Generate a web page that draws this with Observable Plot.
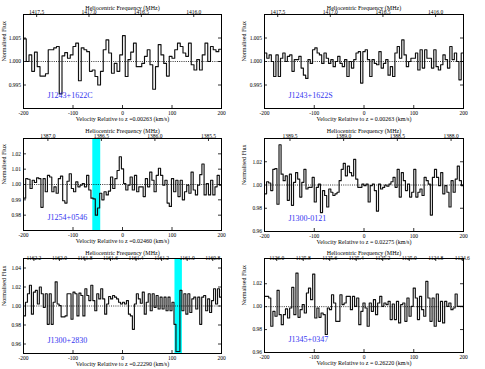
<!DOCTYPE html>
<html><head><meta charset="utf-8">
<script src="https://cdn.jsdelivr.net/npm/d3@7"></script>
<script src="https://cdn.jsdelivr.net/npm/@observablehq/plot@0.6"></script>
<style>
body{margin:0;background:#fff;}
#wrap{position:relative;width:485px;height:369px;overflow:hidden;background:#fff;}
</style></head><body><div id="wrap"></div>
<script>
// ---------- data ----------
const names = ["J1243+1622C","J1243+1622S","J1254+0546","J1300-0121","J1300+2830","J1345+0347"];
const redshifts = ["0.00263","0.00263","0.02460","0.02275","0.22290","0.26220"];
const xLabels = [
  "Velocity Relative to z =0.00263 (km/s)",
  "Velocity Relative to z = 0.00263 (km/s)",
  "Velocity Relative to z =0.02460 (km/s)",
  "Velocity Relative to z = 0.02275 (km/s)",
  "Velocity Relative to z =0.22290 (km/s)",
  "Velocity Relative to z = 0.26220 (km/s)"
];
const topTitle = "Heliocentric Frequency (MHz)";
const yTitle = "Normalised Flux";
const velTicks = [-200,-100,0,100,200];

const freqTicksP1 = [1417.5,1417.0,1416.5,1416.0];
const freqTicksP2 = [1417.5,1417.0,1416.5,1416.0];
const freqTicksP3 = [1387.0,1386.5,1386.0,1385.5];
const freqTicksP4 = [1389.5,1389.0,1388.5,1388.0];
const freqTicksP5 = [1162.2,1162.0,1161.8,1161.6,1161.4,1161.2,1161.0,1160.8];
const freqTicksP6 = [1126.0,1125.8,1125.6,1125.4,1125.2,1125.0,1124.8,1124.6];

const yTicksP1 = [0.995,1.000,1.005];
const yTicksP2 = [0.995,1.000,1.005];
const yTicksP3 = [0.98,0.99,1.00,1.01,1.02];
const yTicksP4 = [0.96,0.98,1.00,1.02];
const yTicksP5 = [0.96,0.98,1.00,1.02,1.04];
const yTicksP6 = [0.96,0.98,1.00,1.02];

const yDomainP1 = [0.990,1.010];
const yDomainP2 = [0.990,1.010];
const yDomainP3 = [0.970,1.030];
const yDomainP4 = [0.960,1.040];
const yDomainP5 = [0.950,1.050];
const yDomainP6 = [0.960,1.042];

const bandP3 = [-60,-44];
const bandP5 = [106,121];

const fluxP1 = [1.0048,1.0000,1.0014,0.9979,1.0020,0.9989,0.9969,0.9969,0.9974,1.0025,
1.0025,1.0029,1.0032,0.9931,1.0012,1.0019,1.0007,1.0014,1.0032,1.0039,
0.9959,1.0029,1.0025,1.0021,0.9979,0.9982,0.9968,0.9950,0.9979,1.0025,
1.0046,1.0018,0.9975,0.9996,0.9979,1.0014,1.0055,0.9968,1.0004,1.0020,
1.0039,0.9989,0.9989,0.9996,1.0011,1.0025,0.9993,0.9941,0.9989,1.0036,
1.0014,0.9996,0.9969,1.0011,1.0007,1.0025,1.0039,1.0032,1.0018,1.0011,
1.0039,0.9993,0.9982,1.0004,0.9982,1.0014,1.0039,1.0000,1.0032,1.0025,
1.0021,1.0026];

const fluxP2 = [1.0018,1.0007,1.0014,1.0000,0.9968,1.0014,0.9968,1.0007,1.0018,1.0000,
1.0011,1.0014,0.9979,1.0004,1.0004,1.0011,0.9986,0.9971,0.9964,1.0004,
0.9996,1.0025,1.0029,1.0018,1.0014,0.9996,1.0018,1.0007,0.9996,1.0004,
0.9989,1.0000,1.0011,0.9996,0.9989,1.0004,0.9968,1.0000,0.9986,1.0004,
1.0018,1.0021,0.9954,1.0021,1.0025,1.0004,0.9968,1.0004,0.9996,0.9993,
1.0021,0.9986,0.9996,1.0004,0.9971,0.9989,0.9968,1.0018,1.0032,1.0007,
1.0046,1.0014,0.9989,1.0000,1.0007,1.0007,1.0018,0.9982,1.0025,0.9986,
1.0025,1.0007,1.0007,0.9986,1.0025,0.9989,0.9982,0.9993,1.0014,1.0004,
0.9986,1.0032,1.0004,1.0018,1.0000,0.9961,1.0018];

const fluxP3 = [0.9911,1.0038,1.0034,0.9974,1.0028,1.0013,1.0043,1.0038,0.9851,1.0038,
0.9953,1.0060,1.0049,0.9953,0.9985,0.9943,1.0038,1.0055,0.9894,0.9879,
1.0021,1.0070,0.9974,0.9953,1.0017,0.9985,0.9996,1.0006,0.9985,1.0060,
0.9964,0.9911,0.9906,0.9800,0.9847,0.9943,0.9900,0.9953,0.9932,0.9957,
1.0049,0.9974,1.0038,1.0091,1.0181,1.0102,1.0006,0.9964,0.9996,1.0049,
0.9964,1.0060,0.9953,0.9985,0.9985,0.9921,1.0038,0.9985,1.0081,1.0028,
0.9953,1.0060,1.0106,1.0060,0.9996,1.0028,0.9879,0.9857,1.0038,0.9953,
1.0028,0.9921,1.0028,0.9900,0.9953,0.9996,0.9943,1.0081,0.9964,0.9932,
0.9996,1.0064,1.0134,0.9932,1.0006,0.9932,1.0028,0.9932,0.9985,1.0060,0.9996];

const fluxP4 = [0.9924,1.0028,1.0017,0.9952,1.0135,1.0141,0.9834,1.0346,1.0093,1.0037,
1.0079,0.9868,1.0093,0.9825,1.0023,1.0107,1.0051,0.9896,1.0023,1.0135,
0.9966,0.9980,0.9980,1.0065,0.9854,0.9980,1.0008,0.9763,0.9952,0.9910,
0.9811,0.9966,0.9938,0.9910,0.9924,0.9938,1.0037,1.0135,1.0186,1.0079,
1.0163,1.0107,1.0079,1.0220,1.0051,0.9980,0.9980,1.0008,0.9994,1.0008,
0.9854,0.9994,1.0008,0.9952,0.9775,1.0008,0.9966,0.9980,1.0000,0.9989,
1.0008,1.0028,1.0065,0.9980,1.0135,0.9896,1.0107,1.0037,0.9952,1.0008,
0.9896,0.9938,1.0135,0.9896,0.9938,0.9966,0.9910,1.0065,1.0037,1.0008,
0.9741,1.0065,1.0135,1.0065,0.9994,1.0107,0.9924,0.9994,0.9938,0.9811,
1.0037,0.9938,1.0051,1.0163,1.0037,0.9994];

const fluxP5 = [0.9896,1.0039,1.0129,1.0218,0.9914,1.0146,1.0164,1.0021,1.0200,1.0129,
0.9986,1.0129,0.9807,1.0129,0.9807,1.0039,1.0254,1.0021,1.0004,0.9886,
0.9886,0.9896,1.0129,1.0129,0.9861,1.0146,1.0129,0.9896,1.0136,1.0111,
0.9896,1.0182,1.0111,1.0057,1.0218,1.0057,0.9950,1.0129,1.0075,1.0182,
1.0075,0.9914,1.0021,1.0100,1.0075,1.0111,1.0093,1.0075,1.0039,1.0021,
1.0039,1.0021,1.0057,0.9914,0.9896,0.9754,1.0021,1.0129,1.0075,1.0029,
1.0146,0.9914,1.0039,1.0129,0.9950,1.0129,0.9986,1.0111,0.9968,1.0093,
0.9968,1.0093,0.9950,1.0093,0.9950,1.0039,0.9807,0.9521,0.9521,1.0164,
0.9950,1.0129,0.9914,1.0129,0.9932,1.0075,1.0093,0.9968,1.0093,0.9807,
1.0093,1.0111,0.9950,1.0075,0.9932,1.0057,1.0182,1.0021,1.0182,1.0093];

const fluxP6 = [1.0090,1.0090,1.0075,0.9829,0.9959,0.9916,1.0142,0.9930,0.9843,0.9930,
0.9980,0.9901,0.9988,1.0168,0.9930,1.0293,0.9907,0.9974,1.0017,0.9945,
1.0119,1.0162,1.0061,1.0284,0.9901,0.9988,0.9907,0.9945,0.9930,0.9757,
0.9988,0.9974,1.0104,1.0032,0.9872,0.9872,1.0104,1.0017,1.0032,1.0090,
1.0090,0.9974,1.0090,1.0003,1.0075,0.9843,0.9959,1.0032,0.9988,0.9829,
1.0032,0.9959,1.0061,0.9930,1.0032,1.0090,1.0003,1.0032,1.0017,1.0046,
0.9887,1.0023,0.9887,1.0046,0.9858,1.0017,1.0032,0.9872,1.0075,0.9916,
1.0003,1.0162,1.0075,0.9887,1.0090,0.9974,0.9916,1.0220,1.0075,0.9872,
1.0075,0.9829,1.0110,0.9872,1.0046,0.9858,1.0046,1.0003,1.0032,0.9974,
0.9988,1.0110,1.0003,1.0003,1.0003];

// ---------- layout ----------
const FONT = "'Liberation Serif','Times New Roman',serif";
const C_KMS = 299792.458, F_HI = 1420.405751768;
const panels = [
  {i:0, flux:fluxP1, freq:freqTicksP1, yt:yTicksP1, yd:yDomainP1, dec:3, band:null, left:0,   top:0,   w:240, h:124, ml:23, mr:19, mt:14, mb:16, tDy:9,  fDy:4},
  {i:1, flux:fluxP2, freq:freqTicksP2, yt:yTicksP2, yd:yDomainP2, dec:3, band:null, left:240, top:0,   w:245, h:124, ml:24, mr:22, mt:14, mb:16, tDy:9,  fDy:4},
  {i:2, flux:fluxP3, freq:freqTicksP3, yt:yTicksP3, yd:yDomainP3, dec:2, band:bandP3, left:0,  top:124, w:240, h:124, ml:23, mr:19, mt:14, mb:18, tDy:10, fDy:4.5},
  {i:3, flux:fluxP4, freq:freqTicksP4, yt:yTicksP4, yd:yDomainP4, dec:2, band:null, left:240, top:124, w:245, h:124, ml:24, mr:22, mt:14, mb:17, tDy:10, fDy:4.5},
  {i:4, flux:fluxP5, freq:freqTicksP5, yt:yTicksP5, yd:yDomainP5, dec:2, band:bandP5, left:0,  top:245, w:240, h:124, ml:23, mr:19, mt:13, mb:16, tDy:8,  fDy:2.5},
  {i:5, flux:fluxP6, freq:freqTicksP6, yt:yTicksP6, yd:yDomainP6, dec:2, band:null, left:240, top:245, w:245, h:124, ml:24, mr:22, mt:13, mb:17, tDy:8,  fDy:2.5}
];

function makePanel(p) {
  const n = p.flux.length, step = 400 / n;
  const pts = p.flux.map((f, i) => ({v: -200 + i * step, f}));
  pts.push({v: 200, f: p.flux[n - 1]});
  const innerW = p.w - p.ml - p.mr, innerH = p.h - p.mt - p.mb;
  const [y0, y1] = p.yd;
  const tkY = (y1 - y0) * 3 / innerH, tkX = 400 * 3 / innerW;
  const fz = F_HI / (1 + Number(redshifts[p.i]));
  const fpos = p.freq.map(f => ({v: C_KMS * (fz / f - 1), label: f.toFixed(1)}));
  const marks = [];
  if (p.band) marks.push(Plot.rect([p.band], {x1: d => d[0], x2: d => d[1], fill: "#00ffff"}));
  marks.push(Plot.line(pts, {x: "v", y: "f", curve: "step-after", stroke: "#111", strokeWidth: 1.15, clip: true}));
  marks.push(Plot.ruleY([1], {stroke: "black", strokeWidth: 0.8, strokeDasharray: "1,1.2"}));
  marks.push(Plot.frame({stroke: "black", strokeWidth: 1}));
  marks.push(Plot.ruleX(velTicks, {x: d => d, y1: y0, y2: y0 + tkY, stroke: "black", strokeWidth: 0.8}));
  marks.push(Plot.ruleX(fpos, {x: "v", y1: y1, y2: y1 - tkY, stroke: "black", strokeWidth: 0.8}));
  marks.push(Plot.ruleY(p.yt, {y: d => d, x1: -200, x2: -200 + tkX, stroke: "black", strokeWidth: 0.8}));
  marks.push(Plot.ruleY(p.yt, {y: d => d, x1: 200, x2: 200 - tkX, stroke: "black", strokeWidth: 0.8}));
  // texts
  marks.push(Plot.text(velTicks, {x: d => d, text: d => String(d), frameAnchor: "bottom", dy: 6, fontSize: 5.5}));
  marks.push(Plot.text(fpos, {x: "v", text: "label", frameAnchor: "top", dy: -p.fDy, fontSize: 5.5}));
  marks.push(Plot.text(p.yt, {y: d => d, text: d => d.toFixed(p.dec), frameAnchor: "left", textAnchor: "end", dx: -2.5, fontSize: 5.5}));
  marks.push(Plot.text([topTitle], {text: d => d, frameAnchor: "top", dy: -p.tDy, fontSize: 6}));
  marks.push(Plot.text([xLabels[p.i]], {text: d => d, frameAnchor: "bottom", dy: 12, fontSize: 6}));
  marks.push(Plot.text([yTitle], {text: d => d, frameAnchor: "left", rotate: -90, dx: -(p.ml - 4), fontSize: 6}));
  marks.push(Plot.text([names[p.i]], {text: d => d, frameAnchor: "bottom-left", textAnchor: "start", dx: 24, dy: -11, fontSize: 8, fill: "#3535f0"}));
  const svg = Plot.plot({
    width: p.w, height: p.h,
    marginLeft: p.ml, marginRight: p.mr, marginTop: p.mt, marginBottom: p.mb,
    x: {domain: [-200, 200], axis: null},
    y: {domain: p.yd, axis: null},
    style: {fontFamily: FONT, fontSize: "5.5px", background: "transparent", overflow: "visible", maxWidth: "none"},
    marks
  });
  svg.style.position = "absolute";
  svg.style.left = p.left + "px";
  svg.style.top = p.top + "px";
  return svg;
}

const wrap = document.getElementById("wrap");
panels.forEach(p => wrap.appendChild(makePanel(p)));
</script>
</body></html>
